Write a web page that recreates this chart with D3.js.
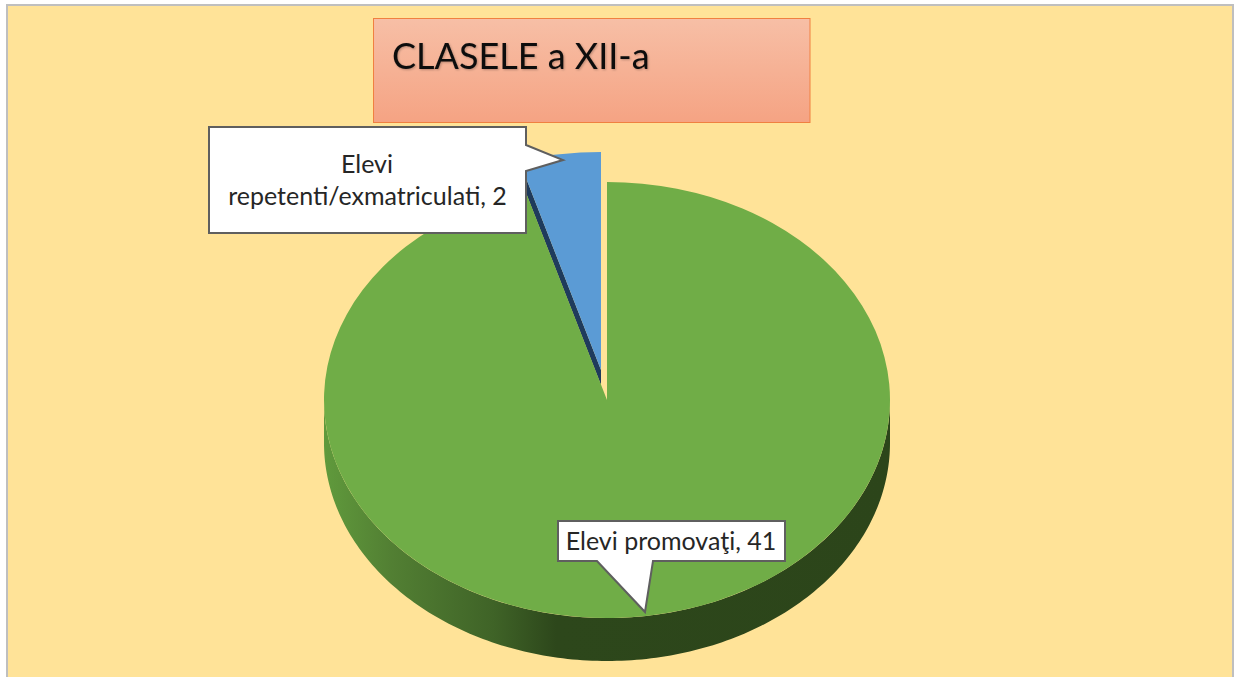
<!DOCTYPE html>
<html><head><meta charset="utf-8">
<style>html,body{margin:0;padding:0;background:#fff;overflow:hidden}svg{display:block}text{font-family:Lato,"Open Sans",sans-serif}</style>
<script src="https://cdn.jsdelivr.net/npm/d3@7"></script>
</head><body>
<script>
const categories = ["Elevi repetenti/exmatriculati", "Elevi promovaţi"];
const values = [2, 41];
const sliceColors = ["#5B9BD5", "#70AD47"];
const chartTitle = "CLASELE a XII-a";

const W = 1234, H = 677;
const svg = d3.select("body").append("svg").attr("width", W).attr("height", H);
const defs = svg.append("defs");

const wallGrad = defs.append("linearGradient").attr("id", "wall")
  .attr("gradientUnits", "userSpaceOnUse").attr("x1", 324).attr("x2", 890).attr("y1", 0).attr("y2", 0);
[[0, "#609a3c"], [0.12, "#527f33"], [0.30, "#3f6327"], [0.41, "#2d471b"], [1, "#2c451a"]]
  .forEach(([o, c]) => wallGrad.append("stop").attr("offset", o).attr("stop-color", c));

const titleGrad = defs.append("linearGradient").attr("id", "titleFill").attr("x1", 0).attr("x2", 0).attr("y1", 0).attr("y2", 1);
[[0, "#F7BFA6"], [1, "#F5A383"]].forEach(([o, c]) => titleGrad.append("stop").attr("offset", o).attr("stop-color", c));

const shadow = defs.append("filter").attr("id", "ts").attr("x", "-5%").attr("y", "-10%").attr("width", "110%").attr("height", "130%");
shadow.append("feDropShadow").attr("dx", 1).attr("dy", 1).attr("stdDeviation", 0.8).attr("flood-color", "#000").attr("flood-opacity", 0.25);

// background frame
svg.append("rect").attr("x", 7).attr("y", 5).attr("width", W - 8).attr("height", H)
  .attr("fill", "#FFE398").attr("stroke", "#BFBFBF").attr("stroke-width", 2);

// pie geometry (flattened 3D pie): the small slice ends at 12 o'clock
const rx = 283, ryTop = 218, depth = 43, cx = 607, cy = 400;
const explode = { x: -6, y: -30, depth: 15 };
const yScale = ryTop / rx;
const startA = -2 * Math.PI * values[0] / d3.sum(values);
const pie = d3.pie().sort(null).startAngle(startA).endAngle(startA + 2 * Math.PI);
const slices = pie(values);
const blue = slices[0], green = slices[1];
const arc = d3.arc().innerRadius(0).outerRadius(rx);
const px = a => rx * Math.sin(a), py = a => -ryTop * Math.cos(a);

// cut face and top of the exploded blue slice
const bx = cx + explode.x, by = cy + explode.y;
const bluePts = [[bx, by], [bx + px(blue.startAngle), by + py(blue.startAngle)],
                 [bx + px(blue.startAngle), by + py(blue.startAngle) + explode.depth], [bx, by + explode.depth]];
svg.append("path").attr("d", d3.line()(bluePts) + "Z").attr("fill", "#1F3B5C");
svg.append("path").attr("transform", `translate(${bx},${by}) scale(1,${yScale})`)
  .attr("d", arc(blue)).attr("fill", sliceColors[0]);

// side wall of the green slice: front half of the ellipse
const wallAngles = d3.range(90, 270.5, 1).map(d => d * Math.PI / 180);
svg.append("path").attr("fill", "url(#wall)")
  .attr("d", d3.area().x(a => cx + px(a)).y0(a => cy + py(a)).y1(a => cy + py(a) + depth)(wallAngles));
svg.append("path").attr("transform", `translate(${cx},${cy}) scale(1,${yScale})`)
  .attr("d", arc(green)).attr("fill", sliceColors[1]);

// title
svg.append("rect").attr("x", 373.5).attr("y", 18.5).attr("width", 436.5).attr("height", 104)
  .attr("fill", "url(#titleFill)").attr("stroke", "#F08040").attr("stroke-width", 1);
svg.append("text").attr("x", 392).attr("y", 69).attr("font-size", 36).attr("fill", "#0d0d0d")
  .attr("filter", "url(#ts)").text(chartTitle);

// callouts
const callout = d3.line();
const calloutStyle = s => s.attr("fill", "#fff").attr("stroke", "#5F5F5F").attr("stroke-width", 2).attr("stroke-linejoin", "miter");
svg.append("path").call(calloutStyle).attr("d", callout([[209,127],[526,127],[526,145],[563,160],[526,171],[526,233],[209,233]]) + "Z");
svg.append("path").call(calloutStyle).attr("d", callout([[558,521],[785,521],[785,561],[653,561],[645,612],[597,561],[558,561]]) + "Z");

const fs = 25, txt = "#262626";
const label0 = `${categories[0]}, ${values[0]}`.split(" ");
svg.append("text").attr("x", 367).attr("y", 173).attr("text-anchor", "middle").attr("font-size", fs).attr("fill", txt).text(label0[0]);
svg.append("text").attr("x", 367.5).attr("y", 205).attr("text-anchor", "middle").attr("font-size", fs).attr("fill", txt).text(label0.slice(1).join(" "));
svg.append("text").attr("x", 671).attr("y", 550).attr("text-anchor", "middle").attr("font-size", fs).attr("fill", txt).text(`${categories[1]}, ${values[1]}`);
</script>
</body></html>
